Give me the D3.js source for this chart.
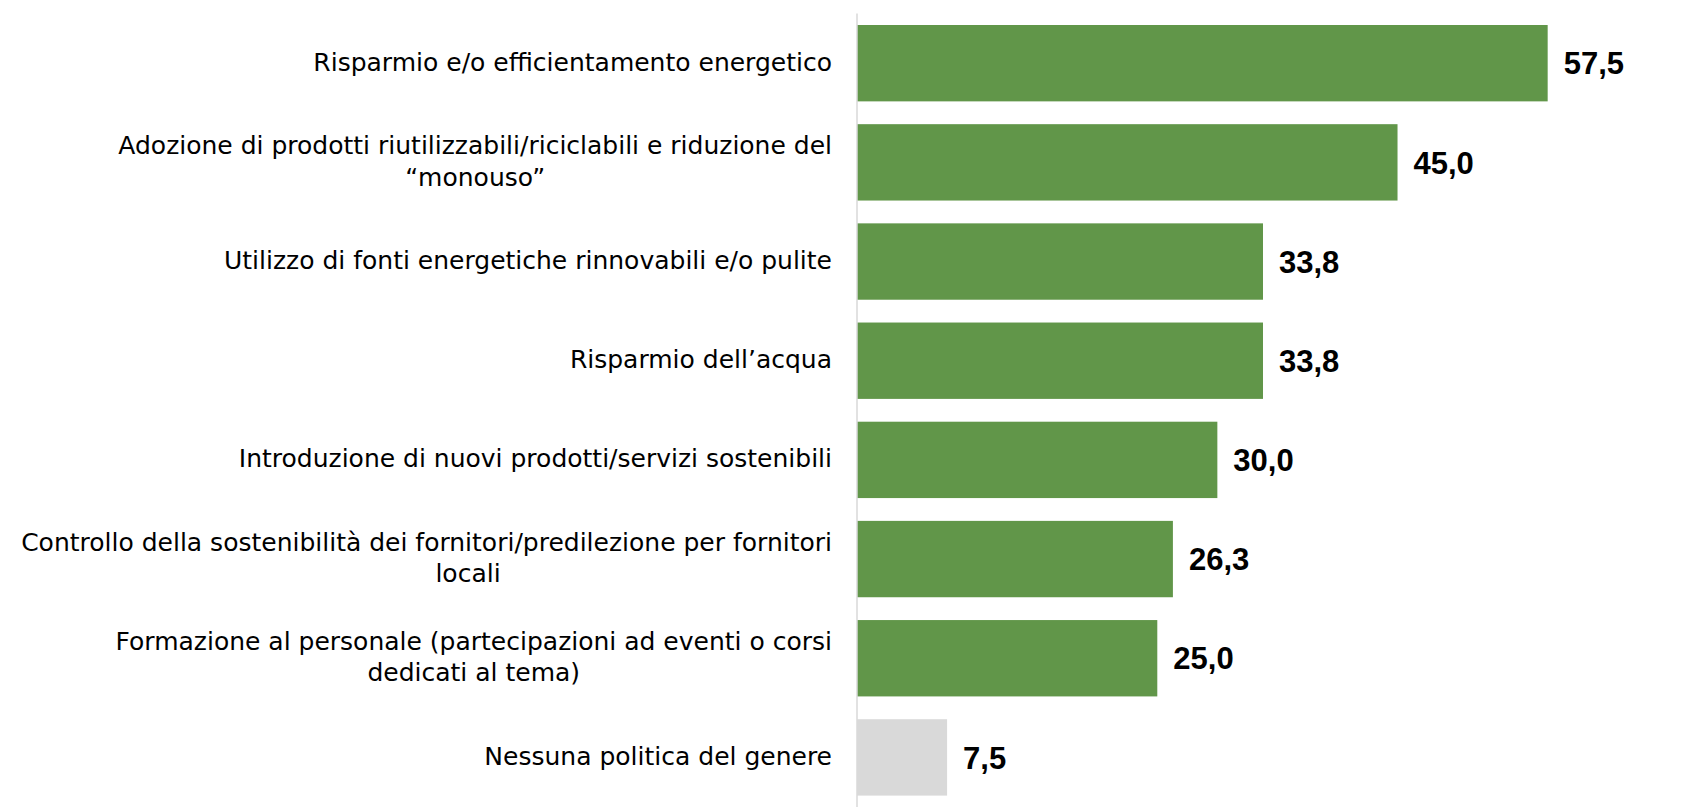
<!DOCTYPE html>
<html>
<head>
<meta charset="utf-8">
<script src="https://cdn.jsdelivr.net/npm/d3@7"></script>
<style>
  body { margin: 0; background: #fff; }
  .cat-label { font-family: "DejaVu Sans", sans-serif; font-size: 25px; fill: #000; }
  .val-label { font-family: "Liberation Sans", Arial, sans-serif; font-weight: bold; font-size: 31px; fill: #000; }
</style>
</head>
<body>
<script>
// categories (each entry = lines of the wrapped axis label)
const categories = [
  ["Risparmio e/o efficientamento energetico"],
  ["Adozione di prodotti riutilizzabili/riciclabili e riduzione del", "\u201cmonouso\u201d"],
  ["Utilizzo di fonti energetiche rinnovabili e/o pulite"],
  ["Risparmio dell\u2019acqua"],
  ["Introduzione di nuovi prodotti/servizi sostenibili"],
  ["Controllo della sostenibilit\u00e0 dei fornitori/predilezione per fornitori", "locali"],
  ["Formazione al personale (partecipazioni ad eventi o corsi", "dedicati al tema)"],
  ["Nessuna politica del genere"]
];
const values = [57.5, 45.0, 33.8, 33.8, 30.0, 26.3, 25.0, 7.5];
const barColors = ["#619649", "#619649", "#619649", "#619649", "#619649", "#619649", "#619649", "#d9d9d9"];

const width = 1703, height = 810;
const axisX = 857;
const plotTop = 13.6, plotBottom = 807;

let svg = d3.select("body").append("svg")
    .attr("width", width)
    .attr("height", height);

let y = d3.scaleBand()
    .domain(d3.range(categories.length))
    .range([plotTop, plotBottom])
    .paddingInner(0.23)
    .paddingOuter(0.115);

let x = d3.scaleLinear()
    .domain([0, 60])
    .range([axisX, axisX + 720.7]);

const fmt = v => v.toFixed(1).replace(".", ",");

//bars
svg.selectAll("rect.bar")
  .data(values)
  .enter().append("rect")
    .attr("class", "bar")
    .attr("x", x(0))
    .attr("y", (d, i) => y(i))
    .attr("width", d => x(d) - x(0))
    .attr("height", y.bandwidth())
    .attr("fill", (d, i) => barColors[i]);

//axis line
svg.append("line")
    .attr("x1", axisX)
    .attr("x2", axisX)
    .attr("y1", plotTop)
    .attr("y2", plotBottom)
    .attr("stroke", "#d9d9d9")
    .attr("stroke-width", 1.5);

//value labels
svg.selectAll("text.val-label")
  .data(values)
  .enter().append("text")
    .attr("class", "val-label")
    .attr("x", d => x(d) + 16)
    .attr("y", (d, i) => y(i) + y.bandwidth() / 2)
    .attr("dy", "0.36em")
    .text(fmt);

//category labels
const labelRight = 832;
const lineGap = 31.5;
const minLeft = 104;
categories.forEach((lines, i) => {
  const cy = y(i) + y.bandwidth() / 2;
  const y0 = cy - (lines.length - 1) * lineGap / 2;
  let first = svg.append("text")
      .attr("class", "cat-label")
      .attr("x", labelRight)
      .attr("y", y0)
      .attr("dy", "0.3em")
      .attr("text-anchor", "end")
      .text(lines[0]);
  if (lines.length > 1) {
    const w = first.node().getComputedTextLength();
    const left = Math.max(labelRight - w, minLeft);
    const center = (left + labelRight) / 2;
    svg.append("text")
        .attr("class", "cat-label")
        .attr("x", center)
        .attr("y", y0 + lineGap)
        .attr("dy", "0.3em")
        .attr("text-anchor", "middle")
        .text(lines[1]);
  }
});
</script>
</body>
</html>
